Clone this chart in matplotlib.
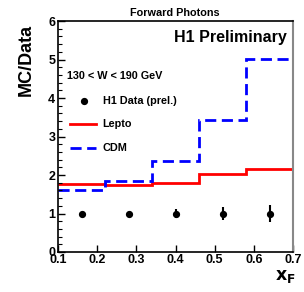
import matplotlib
matplotlib.use("Agg")
import matplotlib.pyplot as plt
import numpy as np
from matplotlib.ticker import MultipleLocator

plt.rcParams['font.family'] = ['Liberation Sans', 'DejaVu Sans']
plt.rcParams['font.weight'] = 'bold'

bin_edges = [0.1, 0.22, 0.34, 0.46, 0.58, 0.7]
lepto = [1.76, 1.74, 1.80, 2.02, 2.16]
cdm = [1.62, 1.84, 2.37, 3.42, 5.02]
data_x = [0.16, 0.28, 0.40, 0.52, 0.64]
data_y = [1.0, 1.0, 1.0, 1.0, 1.0]
data_err = [0.03, 0.04, 0.12, 0.17, 0.23]

fig = plt.figure(figsize=(3.04, 2.92), dpi=100)
ax = fig.add_axes([0.191, 0.137, 0.773, 0.791])

ax.stairs(lepto, bin_edges, color='#ff0000', lw=2.0, baseline=None)
ax.stairs(cdm, bin_edges, color='#0000ff', lw=2.0, ls=(0, (4, 2)), baseline=None)
ax.errorbar(data_x, data_y, yerr=data_err, fmt='o', color='black', ms=4.2, elinewidth=1.5, capsize=0)

ax.set_xlim(0.1, 0.7)
ax.set_ylim(0, 6)
ax.xaxis.set_major_locator(MultipleLocator(0.1))
ax.yaxis.set_major_locator(MultipleLocator(1))
ax.yaxis.set_minor_locator(MultipleLocator(0.2))
ax.tick_params(axis='both', which='both', direction='in', top=False, right=False, labelsize=9)
ax.tick_params(axis='x', which='major', pad=1.5)
ax.tick_params(axis='y', which='major', pad=2)
ax.tick_params(axis='both', which='major', length=5, width=1)
ax.tick_params(axis='y', which='minor', length=3, width=0.8)
for lab in ax.get_xticklabels() + ax.get_yticklabels():
    lab.set_fontweight('bold')
for s in ['left', 'bottom', 'top']:
    ax.spines[s].set_linewidth(1.2)
ax.spines['right'].set_color('#888888')
ax.spines['right'].set_linewidth(1.5)

fig.text(0.087, 0.795, 'MC/Data', rotation=90, fontsize=13, fontweight='bold', ha='center', va='center')
fig.text(0.94, 0.025, r'$\mathbf{x_F}$', fontsize=12.5, ha='center', va='bottom')
fig.text(0.575, 0.955, 'Forward Photons', fontsize=7.8, fontweight='bold', ha='center', va='center')
ax.text(0.975, 0.93, 'H1 Preliminary', transform=ax.transAxes, fontsize=11.5, fontweight='bold', ha='right', va='center')

ax.text(0.04, 0.76, '130 < W < 190 GeV', transform=ax.transAxes, fontsize=7.8, fontweight='bold', ha='left', va='center')
ax.plot([0.11], [0.655], 'o', color='black', ms=4.2, transform=ax.transAxes)
ax.text(0.19, 0.655, 'H1 Data (prel.)', transform=ax.transAxes, fontsize=7.8, fontweight='bold', ha='left', va='center')
ax.plot([0.05, 0.16], [0.555, 0.555], color='#ff0000', lw=2, transform=ax.transAxes)
ax.text(0.19, 0.555, 'Lepto', transform=ax.transAxes, fontsize=7.8, fontweight='bold', ha='left', va='center')
ax.plot([0.05, 0.16], [0.45, 0.45], color='#0000ff', lw=2, ls=(0, (4, 2)), transform=ax.transAxes)
ax.text(0.19, 0.45, 'CDM', transform=ax.transAxes, fontsize=7.8, fontweight='bold', ha='left', va='center')

fig.savefig('out.png', dpi=100)
